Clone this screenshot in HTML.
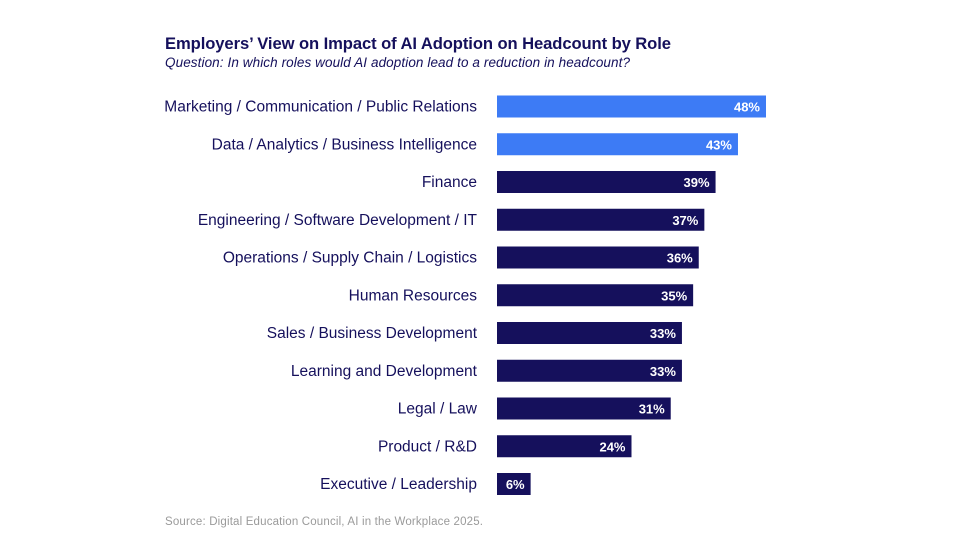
<!DOCTYPE html>
<html><head><meta charset="utf-8"><style>
body{margin:0;background:#fff;width:960px;height:540px;overflow:hidden;font-family:"Liberation Sans",sans-serif;}
</style></head><body>
<svg width="960" height="540">
<text x="165" y="49" font-size="16.6" font-weight="bold" fill="#15105c" textLength="506">Employers’ View on Impact of AI Adoption on Headcount by Role</text>
<text x="165" y="67" font-size="13.5" font-style="italic" fill="#15105c" textLength="465">Question: In which roles would AI adoption lead to a reduction in headcount?</text>
<g id="bars"></g>
<text x="165" y="525" font-size="11.5" fill="#9a9a9a" textLength="318">Source: Digital Education Council, AI in the Workplace 2025.</text>
</svg>
<script>
const categories=["Marketing / Communication / Public Relations","Data / Analytics / Business Intelligence","Finance","Engineering / Software Development / IT","Operations / Supply Chain / Logistics","Human Resources","Sales / Business Development","Learning and Development","Legal / Law","Product / R&D","Executive / Leadership"];
const values=[48,43,39,37,36,35,33,33,31,24,6];
const highlighted=[true,true,false,false,false,false,false,false,false,false,false];
const x0=497,pxPer=269/48,rowY0=106.5,rowStep=37.75,barH=22;
const xs=v=>x0+v*pxPer, ys=i=>rowY0+i*rowStep;
const g=document.getElementById('bars'),NS="http://www.w3.org/2000/svg";
categories.forEach((c,i)=>{
 const y=ys(i);
 const t=document.createElementNS(NS,'text');
 
 
 t.setAttribute('x',477);t.setAttribute('y',y+5);t.setAttribute('text-anchor','end');
 t.setAttribute('font-size','15.5');t.setAttribute('fill','#15105c');t.textContent=c;g.appendChild(t);
 const r=document.createElementNS(NS,'rect');
 
 
 r.setAttribute('x',x0);r.setAttribute('y',y-barH/2);r.setAttribute('width',xs(values[i])-x0);r.setAttribute('height',barH);
 r.setAttribute('fill',highlighted[i]?'#3d7bf5':'#15105c');g.appendChild(r);
 const v=document.createElementNS(NS,'text');
 
 
 v.setAttribute('x',xs(values[i])-6);v.setAttribute('y',y+5);v.setAttribute('text-anchor','end');
 v.setAttribute('font-size','13');v.setAttribute('font-weight','bold');v.setAttribute('fill','#fff');v.textContent=values[i]+'%';g.appendChild(v);
});
</script>
</body></html>
